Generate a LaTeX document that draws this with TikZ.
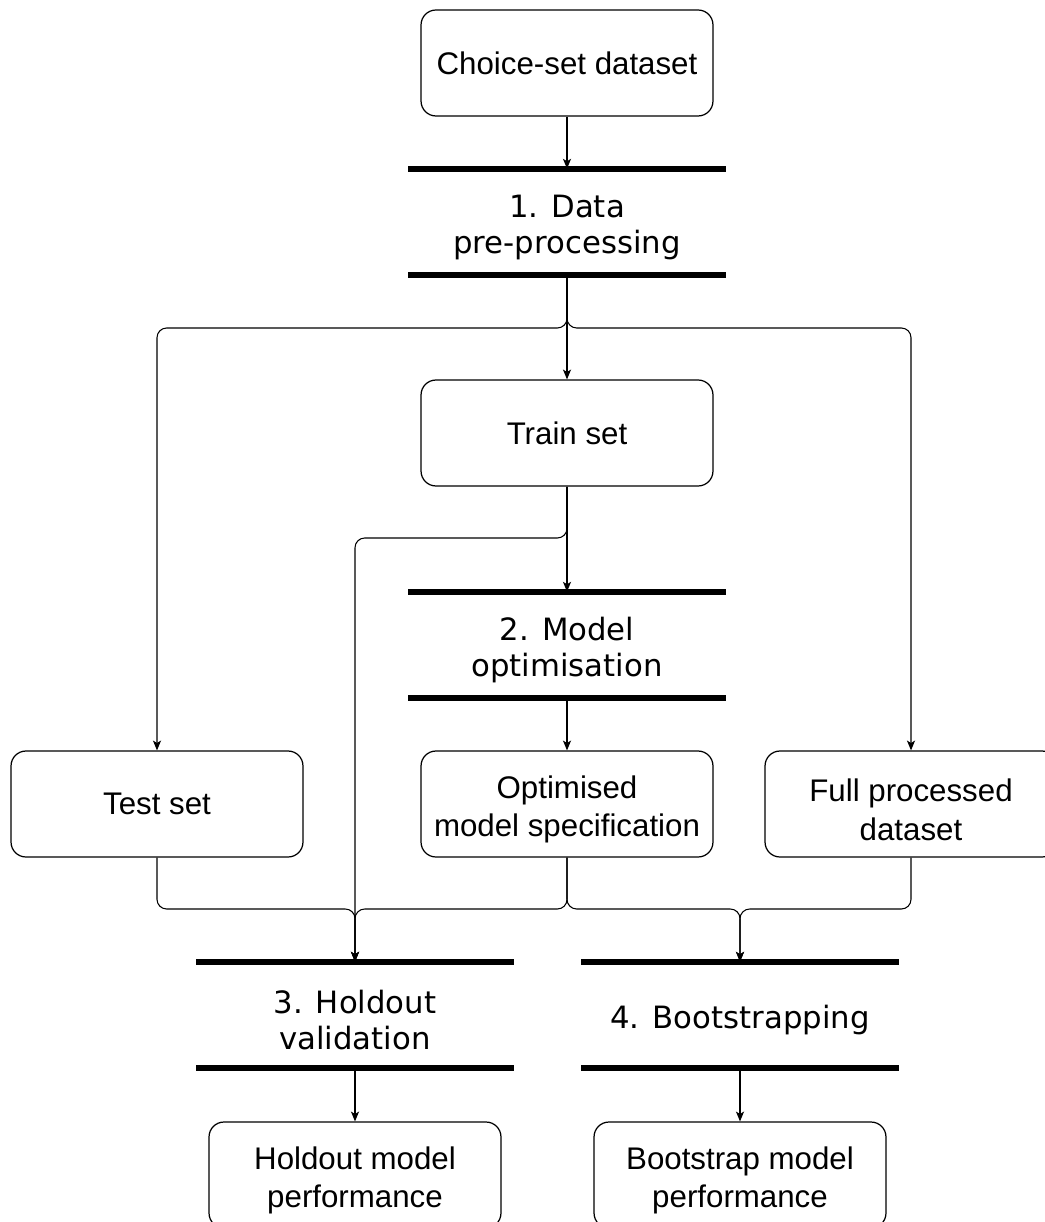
\documentclass[tikz,border=0pt]{standalone}
\usepackage{fontspec}
\setmainfont{Liberation Sans}
\newfontfamily\stagefont{DejaVu Sans}
\usetikzlibrary{arrows.meta}
\newcommand{\lift}{\rule{0pt}{19.4pt}}
\begin{document}
\begin{tikzpicture}[x=0.02cm,y=-0.02cm,>={Stealth[length=5.6pt,width=4.6pt,inset=1.4pt]}, line join=round,
	box/.style={draw, rounded corners=8.5pt, line width=0.7pt, minimum width=5.84cm, minimum height=2.12cm, align=center, font=\fontsize{17.8}{21.8}\selectfont},
	stage/.style={minimum width=6.34cm, minimum height=2.12cm, align=center, font=\stagefont\fontsize{17.5}{20.5}\selectfont},
	bar/.style={line width=3.4pt},
	link/.style={->, line width=0.6pt, rounded corners=5.5pt}]
			\useasboundingbox (0,0) rectangle (1044,1222);
			% boxes and stages
			\node[box] (choice) at (567,63) {Choice-set dataset};
			\node[stage] (s1) at (567,222) {\lift 1. Data\\pre-processing};
			\node[box] (train) at (567,433) {Train set};
			\node[stage] (s2) at (567,645) {\lift 2. Model\\optimisation};
			\node[box] (test) at (157,804) {Test set};
			\node[box] (opt) at (567,804) {\lift Optimised\\model specification};
			\node[box] (full) at (911,804) {\lift Full processed\\dataset};
			\node[stage] (s3) at (355,1015) {\lift 3. Holdout\\validation};
			\node[stage] (s4) at (740,1015) {\lift 4. Bootstrapping};
			\node[box] (hold) at (355,1175) {\lift Holdout model\\performance};
			\node[box] (boot) at (740,1175) {\lift Bootstrap model\\performance};
			\foreach \s in {s1,s2,s3,s4}
			\draw[bar] (\s.north west)--(\s.north east) (\s.south west)--(\s.south east);
			% branch points
			\coordinate (split) at (567,328);
			\coordinate (side) at (355,538);
			\coordinate (join3) at (355,909);
			\coordinate (join4) at (740,909);
			% connectors
			\draw[link] (choice)--(s1);
			\draw[link] (s1.south)--(split)-|(test.north);
			\draw[link] (s1.south)--(train.north);
			\draw[link] (s1.south)--(split)-|(full.north);
			\draw[link] (train.south)--(s2.north);
			\draw[link] (train.south)|-(side)--(s3.north);
			\draw[link] (s2.south)--(opt.north);
			\draw[link] (test.south)|-(join3)--(s3.north);
			\draw[link] (opt.south)|-(join3)--(s3.north);
			\draw[link] (opt.south)|-(join4)--(s4.north);
			\draw[link] (full.south)|-(join4)--(s4.north);
			\draw[link] (s3.south)--(hold.north);
			\draw[link] (s4.south)--(boot.north);
		\end{tikzpicture}
\end{document}
